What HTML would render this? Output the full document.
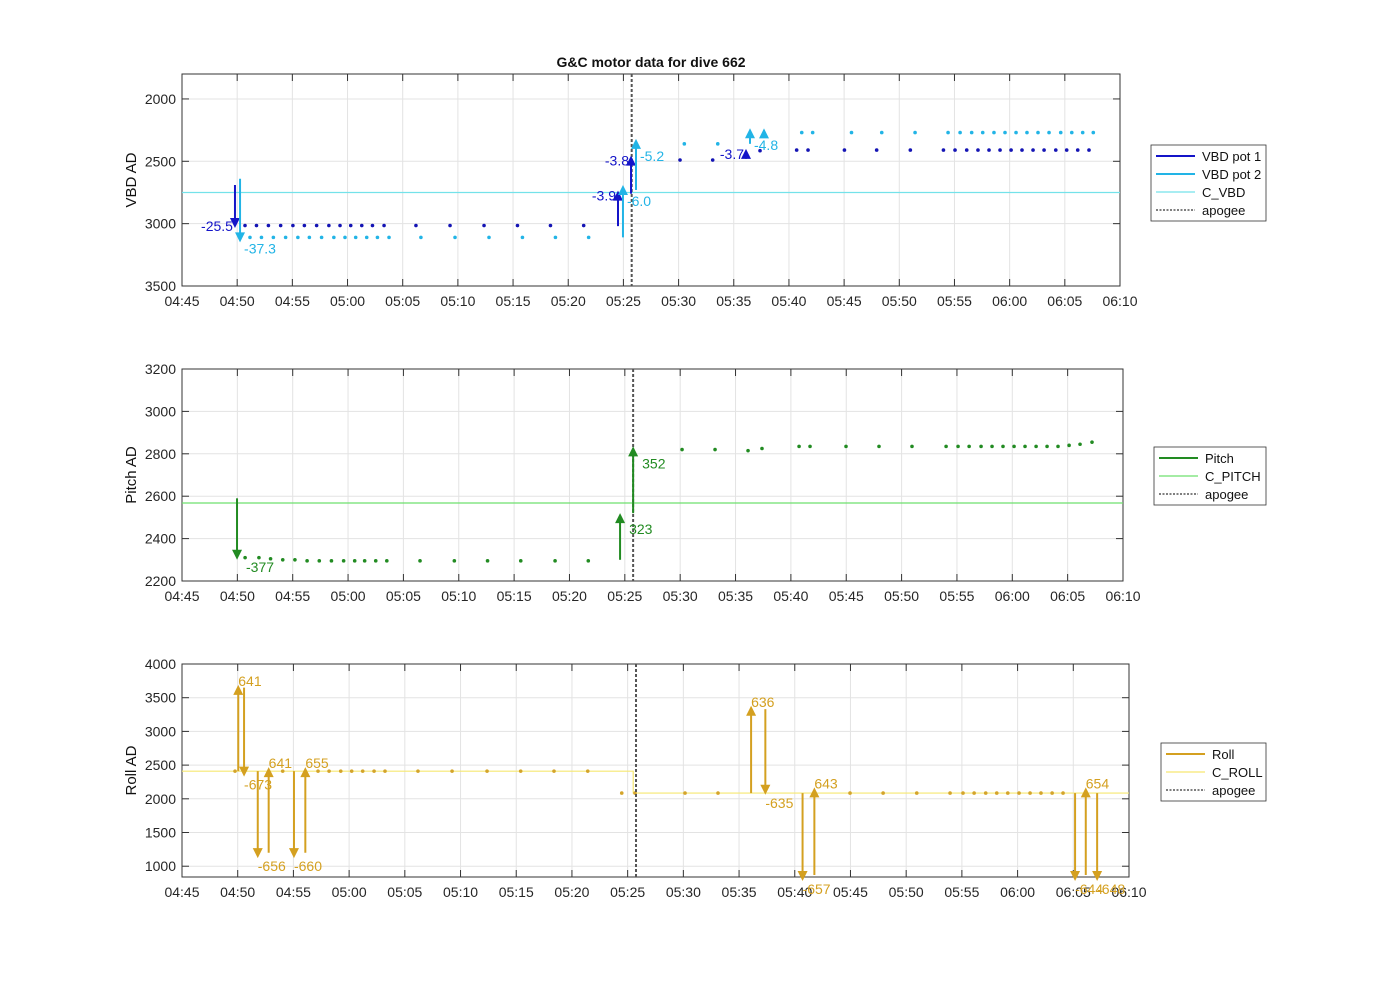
<!DOCTYPE html>
<html><head><meta charset="utf-8">
<style>
html,body{margin:0;padding:0;background:#fff;}
svg{display:block;font-family:"Liberation Sans",Arial,sans-serif;}
</style></head>
<body>
<svg id="chart" width="1400" height="986" viewBox="0 0 1400 986" xmlns="http://www.w3.org/2000/svg">
<rect width="1400" height="986" fill="#fff"/>
<text x="651" y="67" text-anchor="middle" font-size="14" font-weight="bold" fill="#111">G&amp;C motor data for dive 662</text>
</svg>
<script>
// ---------- data (minutes after 04:45) ----------
const xTickLabels = ["04:45","04:50","04:55","05:00","05:05","05:10","05:15","05:20","05:25","05:30","05:35","05:40","05:45","05:50","05:55","06:00","06:05","06:10"];
const apogeeMin = 40.75;

const vbdYTicks = [2000,2500,3000,3500];
const pitchYTicks = [2200,2400,2600,2800,3000,3200];
const rollYTicks = [1000,1500,2000,2500,3000,3500,4000];

const cVbd = 2750;
const cPitch = 2568;
const cRollTimes = [0, 40.5, 40.5, 85];
const cRollValues = [2410, 2410, 2085, 2085];

const pot1Times = [5.71,6.75,7.83,8.94,10.05,11.09,12.2,13.31,14.32,15.29,16.29,17.26,18.31,21.2,24.29,27.37,30.4,33.39,36.4,45.13,48.09,52.38,55.7,56.73,60.03,62.95,66.0,69.0,70.05,71.11,72.13,73.13,74.13,75.13,76.12,77.12,78.12,79.18,80.17,81.17,82.19];
const pot1Values = [3015,3015,3015,3015,3015,3015,3015,3015,3015,3015,3015,3015,3015,3015,3015,3015,3015,3015,3015,2490,2490,2415,2410,2410,2410,2410,2410,2410,2410,2410,2410,2410,2410,2410,2410,2410,2410,2410,2410,2410,2410];
const pot2Times = [6.16,7.2,8.28,9.39,10.5,11.54,12.65,13.76,14.77,15.74,16.74,17.71,18.76,21.65,24.74,27.82,30.85,33.84,36.85,45.52,48.55,56.16,57.15,60.67,63.41,66.43,69.42,70.51,71.56,72.56,73.58,74.58,75.58,76.57,77.57,78.57,79.63,80.63,81.62,82.58];
const pot2Values = [3110,3110,3110,3110,3110,3110,3110,3110,3110,3110,3110,3110,3110,3110,3110,3110,3110,3110,3110,2360,2360,2270,2270,2270,2270,2270,2270,2270,2270,2270,2270,2270,2270,2270,2270,2270,2270,2270,2270,2270];

const vbd1ArrowT = [4.8,39.51,40.69,51.11];
const vbd1ArrowFrom = [2690,3020,2760,2480];
const vbd1ArrowTo = [3035,2735,2455,2400];
const vbd1Labels = ["-25.5","-3.9","-3.8","-3.7"];
const vbd2ArrowT = [5.26,39.96,41.14,51.47,52.74];
const vbd2ArrowFrom = [2640,3110,2730,2360,2250];
const vbd2ArrowTo = [3150,2690,2320,2235,2236];
const vbd2Labels = ["-37.3","-6.0","-5.2","-4.8",""];

const pitchTimes = [5.7,6.95,8.0,9.1,10.2,11.3,12.4,13.5,14.6,15.6,16.5,17.5,18.5,21.5,24.6,27.6,30.6,33.7,36.7,45.17,48.15,51.13,52.39,55.74,56.73,59.98,62.96,65.94,69.02,70.1,71.1,72.18,73.17,74.16,75.16,76.15,77.15,78.14,79.13,80.13,81.12,82.2];
const pitchValues = [2310,2310,2305,2300,2300,2295,2295,2295,2295,2295,2295,2295,2295,2295,2295,2295,2295,2295,2295,2820,2820,2815,2825,2835,2835,2835,2835,2835,2835,2835,2835,2835,2835,2835,2835,2835,2835,2835,2835,2840,2845,2855];
const pitchArrowT = [4.97,39.57,40.75];
const pitchArrowFrom = [2590,2300,2520];
const pitchArrowTo = [2300,2520,2835];
const pitchLabels = ["-377","323","352"];

const rollTimes = [4.76,9.04,12.21,13.2,14.25,15.23,16.22,17.24,18.22,21.18,24.24,27.38,30.4,33.39,36.42,39.47,40.66,45.15,48.11,59.96,62.93,65.95,68.94,70.1,71.1,72.14,73.13,74.12,75.13,76.12,77.1,78.1,79.08];
const rollValues = [2410,2410,2410,2410,2410,2410,2410,2410,2410,2410,2410,2410,2410,2410,2410,2085,2085,2085,2085,2085,2085,2085,2085,2085,2085,2085,2085,2085,2085,2085,2085,2085,2085];
const rollArrowT = [5.05,5.57,6.8,7.78,10.05,11.07,51.08,52.36,55.7,56.76,80.16,81.12,82.14];
const rollArrowFrom = [2410,3650,2410,1200,2410,1200,2085,3330,2085,870,2085,870,2085];
const rollArrowTo = [3690,2330,1120,2470,1120,2470,3380,2060,780,2170,780,2170,780];
const rollLabels = ["641","-673","-656","641","-660","655","636","-635","-657","643","-644","654","-648"];

// ---------- rendering ----------
const NS = "http://www.w3.org/2000/svg";
const svg = document.getElementById("chart");
function mk(tag, attrs, parent){
  const e = document.createElementNS(NS, tag);
  for (const k in attrs) e.setAttribute(k, attrs[k]);
  (parent||svg).appendChild(e);
  return e;
}
function makePanel(p){
  const xs = m => p.x0 + m*(p.x1-p.x0)/85;
  const ys = v => p.y0 + (v - p.vTop)*(p.y1-p.y0)/(p.vBot - p.vTop);
  const g = mk("g", {});
  
  
  mk("rect",{x:p.x0,y:p.y0,width:p.x1-p.x0,height:p.y1-p.y0,fill:"#fff"},g);
  xTickLabels.forEach((lab,i)=>{
    const x = xs(i*5);
    mk("line",{x1:x,y1:p.y0,x2:x,y2:p.y1,stroke:"#e3e3e3","stroke-width":1},g);
    mk("line",{x1:x,y1:p.y1,x2:x,y2:p.y1-7,stroke:"#333"},g);
    mk("line",{x1:x,y1:p.y0,x2:x,y2:p.y0+7,stroke:"#333"},g);
    const t = mk("text",{x:x,y:p.y1+20,"text-anchor":"middle","font-size":14,fill:"#262626"},g);
    t.textContent = lab;
    
    
  });
  p.yTicks.forEach(v=>{
    const y = ys(v);
    mk("line",{x1:p.x0,y1:y,x2:p.x1,y2:y,stroke:"#e3e3e3"},g);
    mk("line",{x1:p.x0,y1:y,x2:p.x0+7,y2:y,stroke:"#333"},g);
    mk("line",{x1:p.x1,y1:y,x2:p.x1-7,y2:y,stroke:"#333"},g);
    const t = mk("text",{x:p.x0-6,y:y+5,"text-anchor":"end","font-size":14,fill:"#262626"},g);
    t.textContent = v;
    
    
  });
  mk("rect",{x:p.x0,y:p.y0,width:p.x1-p.x0,height:p.y1-p.y0,fill:"none",stroke:"#333","stroke-width":1},g);
  const yl = mk("text",{x:0,y:0,"text-anchor":"middle","font-size":15,fill:"#111",transform:`translate(${p.x0-46},${(p.y0+p.y1)/2}) rotate(-90)`},g);
  yl.textContent = p.yLabel;
  
  
  return {xs, ys, g};
}
function hline(ax, p, ts, vs, color, name){
  const pts = ts.map((t,i)=>ax.xs(t)+","+ax.ys(vs[i])).join(" ");
  const l = mk("polyline",{points:pts,fill:"none",stroke:color,"stroke-width":1.2},ax.g);
  
  
}
function apogee(ax,p){
  const x = ax.xs(apogeeMin);
  const l = mk("line",{x1:x,y1:p.y0,x2:x,y2:p.y1,stroke:"#555","stroke-width":2,"stroke-dasharray":"3,2"},ax.g);
  
  
}
function dots(ax, ts, vs, color, name){
  ts.forEach((t,i)=>{
    const c = mk("circle",{cx:ax.xs(t),cy:ax.ys(vs[i]),r:1.8,fill:color},ax.g);
    
    
  });
}
function arrows(ax, ts, from, to, labels, color, name, place){
  ts.forEach((t,i)=>{
    const x = ax.xs(t), ya = ax.ys(from[i]), yb = ax.ys(to[i]);
    const dir = yb > ya ? 1 : -1;
    const hl = 10, hw = 5;
    const l = mk("line",{x1:x,y1:ya,x2:x,y2:yb - dir*hl*0.8,stroke:color,"stroke-width":2},ax.g);
    
    
    const h = mk("polygon",{points:`${x},${yb} ${x-hw},${yb-dir*hl} ${x+hw},${yb-dir*hl}`,fill:color},ax.g);
    
    
    if (labels[i]) {
      const o = place(i, dir);
      const tx = mk("text",{x:x+o[0],y:yb+o[1]+5,"text-anchor":o[2],"font-size":14,fill:color},ax.g);
      tx.textContent = labels[i];
      
      
    }
  });
}
function legend(x,y,w,entries,name){
  const g = mk("g",{});
  
  
  mk("rect",{x:x,y:y,width:w,height:entries.length*18+4,fill:"#fff",stroke:"#333","stroke-width":0.8},g);
  entries.forEach((e,i)=>{
    const yy = y + 11 + i*18;
    mk("line",{x1:x+5,y1:yy,x2:x+44,y2:yy,stroke:e[1],"stroke-width":e[2],"stroke-dasharray":e[3]||"none"},g);
    const t = mk("text",{x:x+51,y:yy+5,"font-size":13,fill:"#111"},g);
    t.textContent = e[0];
    
    
  });
}

// Panel 1 VBD
const P1 = {name:"vbd",x0:182,x1:1120,y0:74,y1:286,vTop:1800,vBot:3500,yTicks:vbdYTicks,yLabel:"VBD AD"};
const a1 = makePanel(P1);
hline(a1,P1,[0,85],[cVbd,cVbd],"#74e2ea","c-vbd-line");
dots(a1,pot1Times,pot1Values,"#1414b4","vbd-pot1-dot");
dots(a1,pot2Times,pot2Values,"#22b4e6","vbd-pot2-dot");
apogee(a1,P1);
arrows(a1,vbd1ArrowT,vbd1ArrowFrom,vbd1ArrowTo,vbd1Labels,"#1414c8","vbd-pot1",(i,d)=>[-2,d>0?-2:5,"end"]);
arrows(a1,vbd2ArrowT,vbd2ArrowFrom,vbd2ArrowTo,vbd2Labels,"#22b4e6","vbd-pot2",(i,d)=>[4,d>0?6:(i==1?16:17),"start"]);
legend(1151,145,115,[["VBD pot 1","#1414c8",2],["VBD pot 2","#22b4e6",2],["C_VBD","#74e2ea",1.2],["apogee","#555",1.5,"2,1.5"]],"vbd-legend");

// Panel 2 Pitch
const P2 = {name:"pitch",x0:182,x1:1123,y0:369,y1:581,vTop:3200,vBot:2200,yTicks:pitchYTicks,yLabel:"Pitch AD"};
const a2 = makePanel(P2);
hline(a2,P2,[0,85],[cPitch,cPitch],"#6ee06e","c-pitch-line");
dots(a2,pitchTimes,pitchValues,"#228b22","pitch-dot");
apogee(a2,P2);
arrows(a2,pitchArrowT,pitchArrowFrom,pitchArrowTo,pitchLabels,"#228b22","pitch",(i,d)=>[9,d>0?7:(i==1?16:17),"start"]);
legend(1154,447,112,[["Pitch","#228b22",2],["C_PITCH","#6ee06e",1.2],["apogee","#555",1.5,"2,1.5"]],"pitch-legend");

// Panel 3 Roll
const P3 = {name:"roll",x0:182,x1:1129,y0:664,y1:877,vTop:4000,vBot:840,yTicks:rollYTicks,yLabel:"Roll AD"};
const a3 = makePanel(P3);
hline(a3,P3,cRollTimes,cRollValues,"#f6e872","c-roll-line");
dots(a3,rollTimes,rollValues,"#d4a42a","roll-dot");
apogee(a3,P3);
arrows(a3,rollArrowT,rollArrowFrom,rollArrowTo,rollLabels,"#d4a020","roll",(i,d)=>[0,d>0?8:-4,"start"]);
legend(1161,743,105,[["Roll","#d4a020",2],["C_ROLL","#f6e872",1.2],["apogee","#555",1.5,"2,1.5"]],"roll-legend");
</script>
</body></html>
